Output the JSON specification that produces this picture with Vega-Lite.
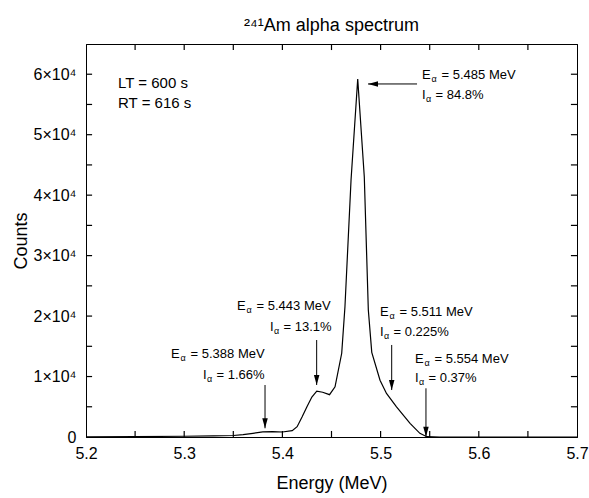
{
  "$schema": "https://vega.github.io/schema/vega-lite/v6.json",
  "width": 491,
  "height": 393,
  "autosize": {"type": "none"},
  "padding": {"left": 86, "top": 44, "right": 12, "bottom": 61},
  "title": {"text": "²⁴¹Am alpha spectrum", "fontSize": 18, "font": "Liberation Sans", "fontWeight": "normal", "offset": 8, "anchor": "middle", "color": "black"},
  "config": {
    "view": {"stroke": "black", "strokeWidth": 1},
    "font": "Liberation Sans",
    "axis": {"domainColor": "black", "domainWidth": 1, "labelColor": "black", "titleColor": "black", "labelFont": "Liberation Sans", "titleFont": "Liberation Sans", "labelFontSize": 16, "titleFontSize": 18, "titleFontWeight": "normal", "grid": false, "ticks": false, "tickSize": 0, "labelFlush": false, "labelOverlap": false}
  },
  "datasets": {
    "spectrum": [
      {"E": 5.2, "counts": 20}, {"E": 5.25, "counts": 60}, {"E": 5.3, "counts": 120}, {"E": 5.33, "counts": 180},
      {"E": 5.35, "counts": 250}, {"E": 5.36, "counts": 380}, {"E": 5.37, "counts": 600}, {"E": 5.38, "counts": 850},
      {"E": 5.39, "counts": 900}, {"E": 5.4, "counts": 830}, {"E": 5.41, "counts": 1050}, {"E": 5.415, "counts": 1700},
      {"E": 5.42, "counts": 3300}, {"E": 5.425, "counts": 5000}, {"E": 5.43, "counts": 6600}, {"E": 5.435, "counts": 7600},
      {"E": 5.441, "counts": 7400}, {"E": 5.448, "counts": 7000}, {"E": 5.4536, "counts": 8300}, {"E": 5.4604, "counts": 13850},
      {"E": 5.4637, "counts": 21550}, {"E": 5.4699, "counts": 42500}, {"E": 5.4767, "counts": 59200}, {"E": 5.4834, "counts": 43000},
      {"E": 5.4875, "counts": 21000}, {"E": 5.491, "counts": 14000}, {"E": 5.4994, "counts": 9400}, {"E": 5.506, "counts": 7200},
      {"E": 5.5162, "counts": 5000}, {"E": 5.53, "counts": 2260}, {"E": 5.54, "counts": 600}, {"E": 5.547, "counts": 50},
      {"E": 5.56, "counts": 0}, {"E": 5.7, "counts": 0}
    ],
    "xticks": [{"v": 5.25}, {"v": 5.3}, {"v": 5.35}, {"v": 5.4}, {"v": 5.45}, {"v": 5.5}, {"v": 5.55}, {"v": 5.6}, {"v": 5.65}],
    "yticks": [{"v": 5000}, {"v": 10000}, {"v": 15000}, {"v": 20000}, {"v": 25000}, {"v": 30000}, {"v": 35000}, {"v": 40000}, {"v": 45000}, {"v": 50000}, {"v": 55000}, {"v": 60000}],
    "arrows": [
      {"x": 5.5371, "x2": 5.4872, "y": 58390, "y2": 58390, "dir": "left"},
      {"x": 5.3823, "x2": 5.3823, "y": 8600, "y2": 1440, "dir": "down"},
      {"x": 5.4349, "x2": 5.4349, "y": 16040, "y2": 8600, "dir": "down"},
      {"x": 5.5113, "x2": 5.5113, "y": 15220, "y2": 7770, "dir": "down"},
      {"x": 5.5462, "x2": 5.5462, "y": 8055, "y2": 50, "dir": "down"}
    ],
    "labels": [
      {"letter": "E", "x": 5.5422, "y": 59900, "rest": "= 5.485 MeV"},
      {"letter": "I", "x": 5.5422, "y": 56570, "rest": "= 84.8%"},
      {"letter": "E", "x": 5.3538, "y": 21670, "rest": "= 5.443 MeV"},
      {"letter": "I", "x": 5.3874, "y": 18190, "rest": "= 13.1%"},
      {"letter": "E", "x": 5.2866, "y": 13730, "rest": "= 5.388 MeV"},
      {"letter": "I", "x": 5.3191, "y": 10255, "rest": "= 1.66%"},
      {"letter": "E", "x": 5.4994, "y": 20675, "rest": "= 5.511 MeV"},
      {"letter": "I", "x": 5.4994, "y": 17370, "rest": "= 0.225%"},
      {"letter": "E", "x": 5.535, "y": 12900, "rest": "= 5.554 MeV"},
      {"letter": "I", "x": 5.535, "y": 9760, "rest": "= 0.37%"}
    ],
    "notes": [
      {"x": 5.2326, "y": 58500, "text": "LT = 600 s"},
      {"x": 5.2326, "y": 55200, "text": "RT = 616 s"}
    ]
  },
  "resolve": {"axis": {"x": "independent", "y": "independent"}},
  "layer": [
    {
      "data": {"name": "spectrum"},
      "mark": {"type": "line", "color": "black", "strokeWidth": 1.2},
      "encoding": {
        "x": {"field": "E", "type": "quantitative", "scale": {"domain": [5.2, 5.7], "nice": false, "zero": false},
              "axis": {"orient": "bottom", "title": "Energy (MeV)", "values": [5.2, 5.3, 5.4, 5.5, 5.6, 5.7], "format": ".1f", "labelPadding": 8, "titlePadding": 13, "domain": true}},
        "y": {"field": "counts", "type": "quantitative", "scale": {"domain": [0, 65000], "nice": false},
              "axis": {"orient": "left", "title": "Counts", "values": [0, 10000, 20000, 30000, 40000, 50000, 60000],
                       "labelExpr": "datum.value == 0 ? '0' : (datum.value/10000) + '×10⁴'", "labelPadding": 10, "titlePadding": 3, "domain": true}}
      }
    },
    {
      "data": {"name": "spectrum"},
      "mark": {"type": "line", "opacity": 0},
      "encoding": {
        "x": {"field": "E", "type": "quantitative", "axis": {"orient": "top", "title": null, "labels": false, "domain": true}},
        "y": {"field": "counts", "type": "quantitative", "axis": {"orient": "right", "title": null, "labels": false, "domain": true}}
      }
    },
    {
      "data": {"name": "xticks"},
      "mark": {"type": "rule", "color": "black", "strokeWidth": 1.2},
      "encoding": {
        "x": {"field": "v", "type": "quantitative", "axis": null},
        "y": {"datum": 0, "type": "quantitative", "axis": null},
        "y2": {"datum": 1000}
      }
    },
    {
      "data": {"name": "xticks"},
      "mark": {"type": "rule", "color": "black", "strokeWidth": 1.2},
      "encoding": {
        "x": {"field": "v", "type": "quantitative", "axis": null},
        "y": {"datum": 65000, "type": "quantitative", "axis": null},
        "y2": {"datum": 64000}
      }
    },
    {
      "data": {"name": "yticks"},
      "mark": {"type": "rule", "color": "black", "strokeWidth": 1.2},
      "encoding": {
        "y": {"field": "v", "type": "quantitative", "axis": null},
        "x": {"datum": 5.2, "type": "quantitative", "axis": null},
        "x2": {"datum": 5.2062}
      }
    },
    {
      "data": {"name": "yticks"},
      "mark": {"type": "rule", "color": "black", "strokeWidth": 1.2},
      "encoding": {
        "y": {"field": "v", "type": "quantitative", "axis": null},
        "x": {"datum": 5.7, "type": "quantitative", "axis": null},
        "x2": {"datum": 5.6938}
      }
    },
    {
      "data": {"name": "arrows"},
      "mark": {"type": "rule", "color": "black", "strokeWidth": 1},
      "encoding": {
        "x": {"field": "x", "type": "quantitative", "axis": null},
        "x2": {"field": "x2"},
        "y": {"field": "y", "type": "quantitative", "axis": null},
        "y2": {"field": "y2"}
      }
    },
    {
      "data": {"name": "arrows"},
      "transform": [{"filter": "datum.dir == 'down'"}],
      "mark": {"type": "point", "shape": "M0,0L-0.55,-2L0.55,-2Z", "size": 100, "filled": true, "color": "black", "opacity": 1},
      "encoding": {
        "x": {"field": "x2", "type": "quantitative", "axis": null},
        "y": {"field": "y2", "type": "quantitative", "axis": null}
      }
    },
    {
      "data": {"name": "arrows"},
      "transform": [{"filter": "datum.dir == 'left'"}],
      "mark": {"type": "point", "shape": "M0,0L2,-0.55L2,0.55Z", "size": 100, "filled": true, "color": "black", "opacity": 1},
      "encoding": {
        "x": {"field": "x2", "type": "quantitative", "axis": null},
        "y": {"field": "y2", "type": "quantitative", "axis": null}
      }
    },
    {
      "data": {"name": "labels"},
      "mark": {"type": "text", "align": "left", "baseline": "middle", "fontSize": 13, "color": "black"},
      "encoding": {
        "x": {"field": "x", "type": "quantitative", "axis": null},
        "y": {"field": "y", "type": "quantitative", "axis": null},
        "text": {"field": "letter"}
      }
    },
    {
      "data": {"name": "labels"},
      "transform": [{"filter": "datum.letter == 'E'"}],
      "mark": {"type": "text", "align": "left", "baseline": "middle", "fontSize": 9, "dx": 9.5, "dy": 4, "color": "black"},
      "encoding": {
        "x": {"field": "x", "type": "quantitative", "axis": null},
        "y": {"field": "y", "type": "quantitative", "axis": null},
        "text": {"value": "α"}
      }
    },
    {
      "data": {"name": "labels"},
      "transform": [{"filter": "datum.letter == 'E'"}],
      "mark": {"type": "text", "align": "left", "baseline": "middle", "fontSize": 13, "dx": 19.5, "color": "black"},
      "encoding": {
        "x": {"field": "x", "type": "quantitative", "axis": null},
        "y": {"field": "y", "type": "quantitative", "axis": null},
        "text": {"field": "rest"}
      }
    },
    {
      "data": {"name": "labels"},
      "transform": [{"filter": "datum.letter == 'I'"}],
      "mark": {"type": "text", "align": "left", "baseline": "middle", "fontSize": 9, "dx": 4, "dy": 4, "color": "black"},
      "encoding": {
        "x": {"field": "x", "type": "quantitative", "axis": null},
        "y": {"field": "y", "type": "quantitative", "axis": null},
        "text": {"value": "α"}
      }
    },
    {
      "data": {"name": "labels"},
      "transform": [{"filter": "datum.letter == 'I'"}],
      "mark": {"type": "text", "align": "left", "baseline": "middle", "fontSize": 13, "dx": 13.5, "color": "black"},
      "encoding": {
        "x": {"field": "x", "type": "quantitative", "axis": null},
        "y": {"field": "y", "type": "quantitative", "axis": null},
        "text": {"field": "rest"}
      }
    },
    {
      "data": {"name": "notes"},
      "mark": {"type": "text", "align": "left", "baseline": "middle", "fontSize": 15, "color": "black"},
      "encoding": {
        "x": {"field": "x", "type": "quantitative", "axis": null},
        "y": {"field": "y", "type": "quantitative", "axis": null},
        "text": {"field": "text"}
      }
    }
  ]
}
